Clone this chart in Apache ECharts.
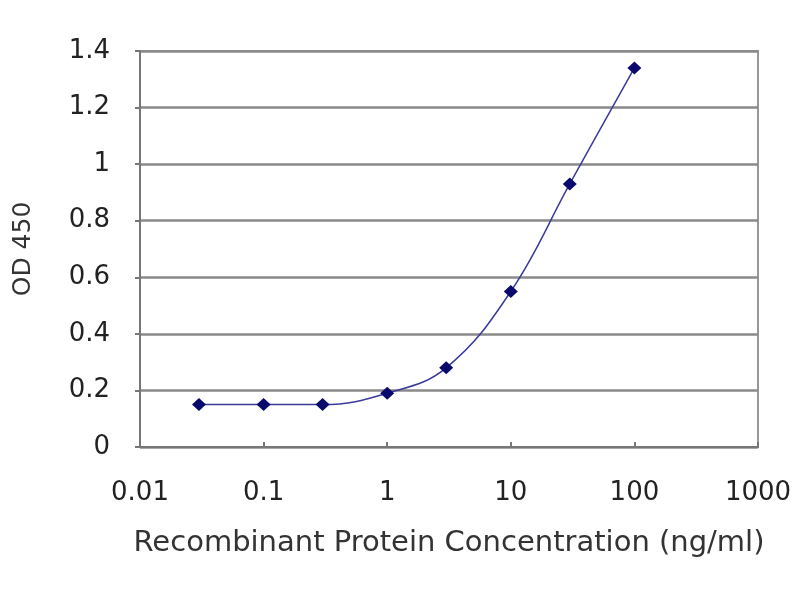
<!DOCTYPE html>
<html><head><meta charset="utf-8">
<script src="https://cdn.jsdelivr.net/npm/echarts@6/dist/echarts.min.js"></script>
<style>html,body{margin:0;padding:0;background:#fff}#c{width:800px;height:600px}</style>
</head><body><div id="c"></div>
<script>
const concentrations = [0.03, 0.1, 0.3, 1, 3, 10, 30, 100];
const odValues = [0.15, 0.15, 0.15, 0.19, 0.28, 0.55, 0.93, 1.34];
const xTitle = 'Recombinant Protein Concentration (ng/ml)';
const yTitle = 'OD 450';

const chart = echarts.init(document.getElementById('c'));
const font = 'DejaVu Sans, Liberation Sans, sans-serif';
chart.setOption({
  animation: false,
  grid: {left: 140, right: 42, top: 51, bottom: 153, show: true, borderColor: '#999', borderWidth: 2, backgroundColor: '#fff'},
  xAxis: {
    type: 'log', logBase: 10, min: 0.01, max: 1000,
    name: xTitle, nameLocation: 'middle', nameGap: 82,
    nameTextStyle: {fontFamily: font, fontSize: 29, color: '#333'},
    axisLine: {lineStyle: {color: '#777', width: 2}},
    axisTick: {inside: true, length: 5, lineStyle: {color: '#777', width: 2}},
    axisLabel: {fontFamily: font, fontSize: 26, color: '#222', margin: 33,
      formatter: v => String(parseFloat(Number(v).toPrecision(3)))},
    splitLine: {show: false}, minorTick: {show: false}
  },
  yAxis: {
    type: 'value', min: 0, max: 1.4, interval: 0.2,
    name: yTitle, nameLocation: 'middle', nameGap: 104, nameRotate: 90,
    nameTextStyle: {fontFamily: font, fontSize: 25, color: '#333'},
    axisLine: {show: true, lineStyle: {color: '#777', width: 2}},
    axisTick: {show: true, length: 5, lineStyle: {color: '#777', width: 2}},
    axisLabel: {fontFamily: font, fontSize: 26, color: '#222', margin: 30,
      formatter: v => String(parseFloat(Number(v).toFixed(2)))},
    splitLine: {lineStyle: {color: '#8a8a8a', width: 2.5}}
  },
  series: [{
    type: 'line', smooth: 0.4,
    data: concentrations.map((c, i) => [c, odValues[i]]),
    symbol: 'diamond', symbolSize: [14, 13],
    itemStyle: {color: '#0a0a6e'},
    lineStyle: {color: '#3a3a9a', width: 1.5}
  }]
});
</script></body></html>
